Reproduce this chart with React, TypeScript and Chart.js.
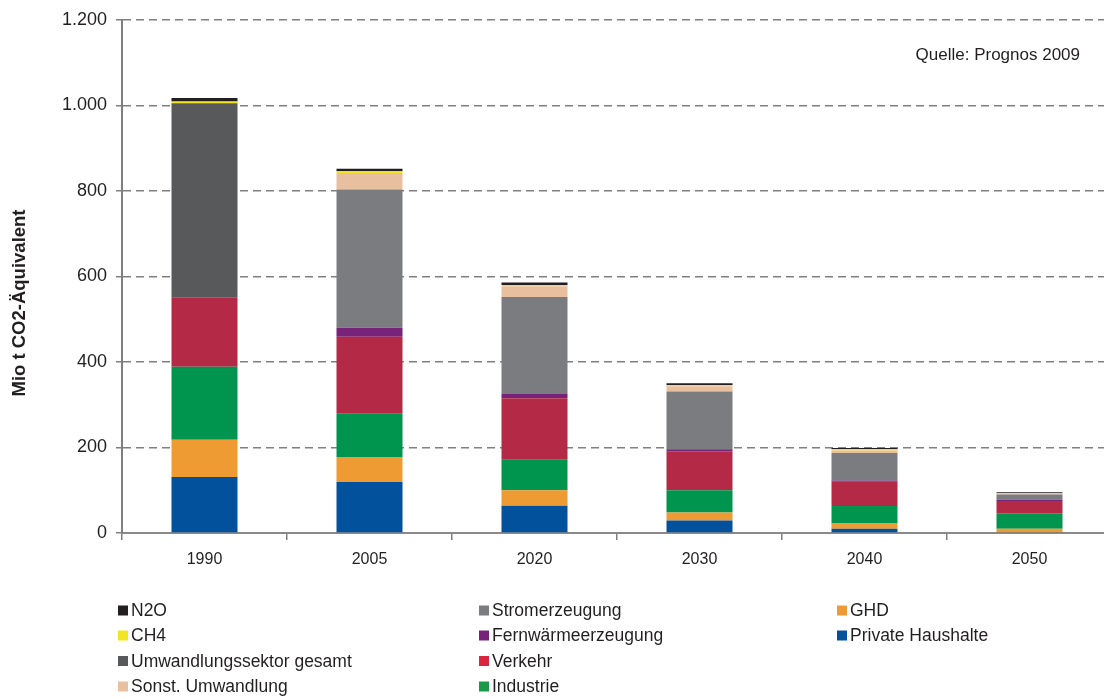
import React, { useEffect, useRef } from "react";
import { Chart, registerables } from "chart.js";

Chart.register(...registerables);

const years = ["1990", "2005", "2020", "2030", "2040", "2050"];
const privateHaushalte = [131, 119, 64, 29, 10, 1];
const ghd = [87, 59, 36, 19, 12, 9];
const industrie = [171, 101, 71, 52, 41, 36];
const verkehr = [162, 180, 144, 91, 57, 29];
const fernwaerme = [0, 21, 10, 5, 3, 3];
const strom = [0, 323, 227, 135, 64, 12];
const sonstUmwandlung = [0, 39, 25, 12, 6, 2];
const umwandlungGesamt = [454, 0, 0, 0, 0, 0];
const ch4 = [4, 4, 3, 3, 3, 1];
const n2o = [8, 6, 6, 4, 3, 2];
const yTicks = [0, 200, 400, 600, 800, 1000, 1200];

const seriesNames = [
  "Private Haushalte",
  "GHD",
  "Industrie",
  "Verkehr",
  "Fernwärmeerzeugung",
  "Stromerzeugung",
  "Sonst. Umwandlung",
  "Umwandlungssektor gesamt",
  "CH4",
  "N2O",
];
const seriesValues = [
  privateHaushalte,
  ghd,
  industrie,
  verkehr,
  fernwaerme,
  strom,
  sonstUmwandlung,
  umwandlungGesamt,
  ch4,
  n2o,
];
const seriesColors = [
  "#02519c",
  "#ee9b33",
  "#00954f",
  "#b42a46",
  "#772379",
  "#7b7c80",
  "#e9c09f",
  "#58595b",
  "#f2e622",
  "#231f20",
];
const legendColors = [
  "#02519c",
  "#ee9b33",
  "#1a9a48",
  "#d7263d",
  "#772379",
  "#7b7c80",
  "#e9c09f",
  "#58595b",
  "#f2e622",
  "#231f20",
];

const FONT = "'Liberation Sans', Arial, Helvetica, sans-serif";

const fmt = (v: number) => String(v).replace(/\B(?=(\d{3})+(?!\d))/g, ".");

const extrasPlugin = {
  id: "extras",
  afterDraw(chart: any) {
    const ctx = chart.ctx as CanvasRenderingContext2D;
    ctx.save();
    // y-axis title
    ctx.save();
    ctx.translate(20, 303);
    ctx.rotate(-Math.PI / 2);
    ctx.font = `bold 18.5px ${FONT}`;
    ctx.fillStyle = "#231f20";
    ctx.textAlign = "center";
    ctx.textBaseline = "middle";
    ctx.fillText("Mio t CO2-Äquivalent", 0, 0);
    ctx.restore();

    // source note
    ctx.font = `17px ${FONT}`;
    ctx.fillStyle = "#231f20";
    ctx.textAlign = "right";
    ctx.textBaseline = "middle";
    ctx.fillText("Quelle: Prognos 2009", 1080, 55);

    // legend (column-major, top of stack first)
    const order = chart.data.datasets.map((_: any, i: number) => i).reverse();
    const colX = [118, 479, 837];
    const rowY = [610.5, 635.5, 661, 686.5];
    ctx.font = `17.5px ${FONT}`;
    ctx.textAlign = "left";
    ctx.textBaseline = "middle";
    order.forEach((dsIndex: number, k: number) => {
      const col = Math.floor(k / 4);
      const row = k % 4;
      const x = colX[col];
      const y = rowY[row];
      ctx.fillStyle = legendColors[dsIndex];
      ctx.fillRect(x, y - 5, 10, 10);
      ctx.fillStyle = "#231f20";
      ctx.fillText(chart.data.datasets[dsIndex].label, x + 13, y + 1);
    });
    ctx.restore();
  },
};

export default function App() {
  const canvasRef = useRef<HTMLCanvasElement | null>(null);

  useEffect(() => {
    document.body.style.margin = "0";
    const canvas = canvasRef.current;
    if (!canvas) return;
    const chart = new Chart(canvas, {
      type: "bar",
      data: {
        labels: years,
        datasets: seriesNames.map((name, i) => ({
          label: name,
          data: seriesValues[i],
          backgroundColor: seriesColors[i],
          borderWidth: 0,
          categoryPercentage: 1,
          barPercentage: 0.4,
        })),
      },
      options: {
        responsive: false,
        animation: false,
        layout: { padding: { top: 18, left: 0, right: 0, bottom: 0 } },
        plugins: {
          legend: { display: false },
          tooltip: { enabled: false },
        },
        scales: {
          x: {
            stacked: true,
            offset: true,
            afterFit: (scale: any) => {
              scale.height = 166;
            },
            border: { display: true, color: "#8a8a8a", width: 2 },
            grid: {
              display: true,
              offset: true,
              drawOnChartArea: false,
              drawTicks: true,
              tickLength: 7,
              color: "#7f7f7f",
              lineWidth: 1.5,
            },
            ticks: {
              padding: 10,
              color: "#231f20",
              font: { family: FONT, size: 16 },
            },
          },
          y: {
            stacked: true,
            min: 0,
            max: 1200,
            afterFit: (scale: any) => {
              scale.width = 122;
            },
            afterBuildTicks: (scale: any) => {
              scale.ticks = yTicks.map((v) => ({ value: v }));
            },
            border: { display: true, color: "#7f7f7f", width: 2, dash: [8, 5] },
            grid: {
              display: true,
              color: "#808080",
              lineWidth: 1.5,
              tickLength: 6,
            },
            ticks: {
              padding: 9,
              color: "#231f20",
              font: { family: FONT, size: 18 },
              callback: (v: any) => fmt(Number(v)),
            },
          },
        },
      },
      plugins: [extrasPlugin],
    });
    return () => chart.destroy();
  }, []);

  return (
    <div
      style={{
        position: "relative",
        width: 1104,
        height: 699,
        overflow: "hidden",
        background: "#ffffff",
      }}
    >
      <canvas
        ref={canvasRef}
        width={1112}
        height={699}
        style={{ display: "block", width: 1112, height: 699 }}
      />
    </div>
  );
}
